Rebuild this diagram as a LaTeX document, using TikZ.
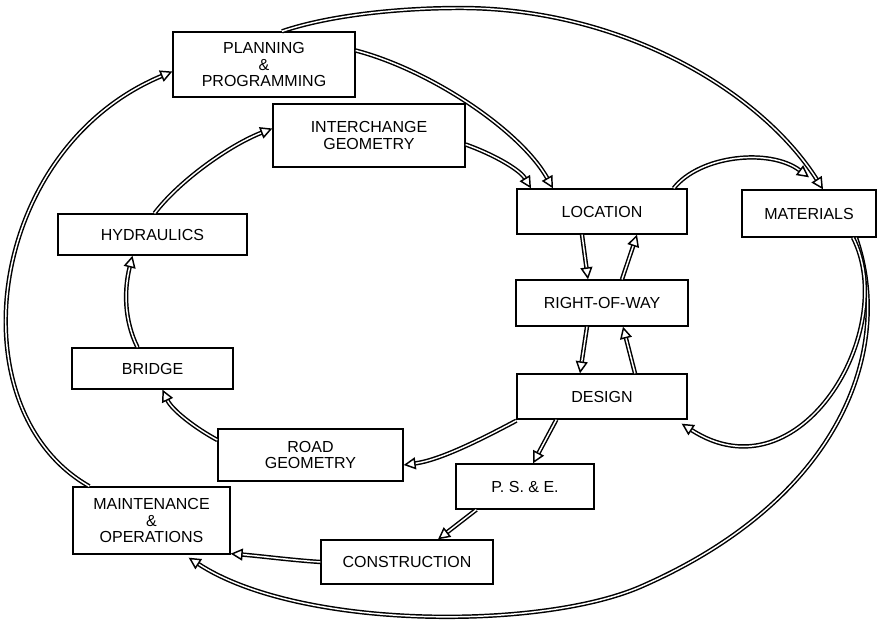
\documentclass[tikz,border=0pt]{standalone}
\usepackage{fontspec}
\setmainfont{Liberation Sans}
\usetikzlibrary{arrows.meta,calc}

\tikzset{
  blk/.style={draw, line width=1pt, align=center, inner sep=0.75pt, font=\fontsize{12}{12.5}\selectfont},
  flow/.style={line width=1.1pt, double distance=1.1pt, -{Triangle[open,length=9pt,width=9pt]}}
}

\begin{document}
\begin{tikzpicture}[x=0.75pt,y=0.75pt,yscale=-1,xscale=1]
\useasboundingbox (0,0) rectangle (878,621);

\node[blk, minimum width=136.5pt, minimum height=48.75pt] (plan) at (264,64.5) {PLANNING\\\&\\PROGRAMMING};
\node[blk, minimum width=144pt, minimum height=47.25pt] (inter) at (369,135.5) {INTERCHANGE\\GEOMETRY};
\node[blk, minimum width=127.5pt, minimum height=33.75pt] (loc) at (602,211.5) {LOCATION};
\node[blk, minimum width=100.5pt, minimum height=35.25pt] (mat) at (809,213.5) {MATERIALS};
\node[blk, minimum width=141.75pt, minimum height=30.75pt] (hyd) at (152.5,234.5) {HYDRAULICS};
\node[blk, minimum width=129pt, minimum height=34.5pt] (row) at (602,303) {RIGHT-OF-WAY};
\node[blk, minimum width=120.75pt, minimum height=30.75pt] (bridge) at (152.5,368.5) {BRIDGE};
\node[blk, minimum width=127.5pt, minimum height=33.75pt] (design) at (602,396.5) {DESIGN};
\node[blk, minimum width=138.75pt, minimum height=39pt] (road) at (310.5,455) {ROAD\\GEOMETRY};
\node[blk, minimum width=103.5pt, minimum height=33.75pt] (pse) at (525,486.5) {P. S. \& E.};
\node[blk, minimum width=117.75pt, minimum height=50.25pt] (maint) at (151.5,520.5) {MAINTENANCE\\\&\\OPERATIONS};
\node[blk, minimum width=129pt, minimum height=33pt] (cons) at (407,562) {CONSTRUCTION};

% outer ring
\draw[flow] ($(maint.north west)+(17,0)$) .. controls (-45,410) and (-15,150) .. ($(plan.west)+(0,7)$);
\draw[flow] ($(plan.north)+(18,0)$) .. controls (330,15) and (400,8) .. (460,8) .. controls (620,8) and (760,90) .. ($(mat.north)+(14,0)$);
\draw[flow] ($(mat.south)+(47,0)$) .. controls (895,350) and (840,500) .. (640,587) .. controls (540,630) and (300,630) .. ($(maint.south east)+(-42,3)$);

% into location and materials
\draw[flow] ($(plan.east)+(0,-14)$) .. controls (430,70) and (520,130) .. ($(loc.north)+(-49,0)$);
\draw[flow] ($(inter.east)+(0,9)$) .. controls (495,155) and (520,170) .. ($(loc.north)+(-71,0)$);
\draw[flow] ($(loc.north east)+(-14,0)$) .. controls (700,155) and (770,148) .. ($(mat.north)+(0,-12)$);
\draw[flow] ($(mat.south)+(44,0)$) .. controls (900,330) and (800,500) .. ($(design.south east)+(-6,4)$);

% centre column
\draw[flow] ($(loc.south)+(-20,0)$) -- ($(row.north)+(-14,0)$);
\draw[flow] ($(row.north)+(20,0)$) -- ($(loc.south)+(35,0)$);
\draw[flow] ($(row.south)+(-15,0)$) -- ($(design.north)+(-22,0)$);
\draw[flow] ($(design.north)+(33,0)$) -- ($(row.south)+(21,0)$);

% lower half
\draw[flow] ($(design.south west)+(0,1)$) .. controls (480,440) and (440,460) .. ($(road.east)+(0,10)$);
\draw[flow] ($(design.south west)+(40,0)$) -- ($(pse.north)+(8,0)$);
\draw[flow] ($(pse.south west)+(21,0)$) -- ($(cons.north)+(31,0)$);
\draw[flow] (cons.west) .. controls (290,560) and (260,556) .. ($(maint.south east)+(0,-1)$);

% inner ring
\draw[flow] ($(road.west)+(0,-15)$) .. controls (195,428) and (172,410) .. ($(bridge.south)+(10,0)$);
\draw[flow] ($(bridge.north)+(-15,0)$) .. controls (124,320) and (124,290) .. ($(hyd.south)+(-20,0)$);
\draw[flow] ($(hyd.north)+(2,0)$) .. controls (180,180) and (230,145) .. ($(inter.west)+(0,-7)$);

\end{tikzpicture}
\end{document}
